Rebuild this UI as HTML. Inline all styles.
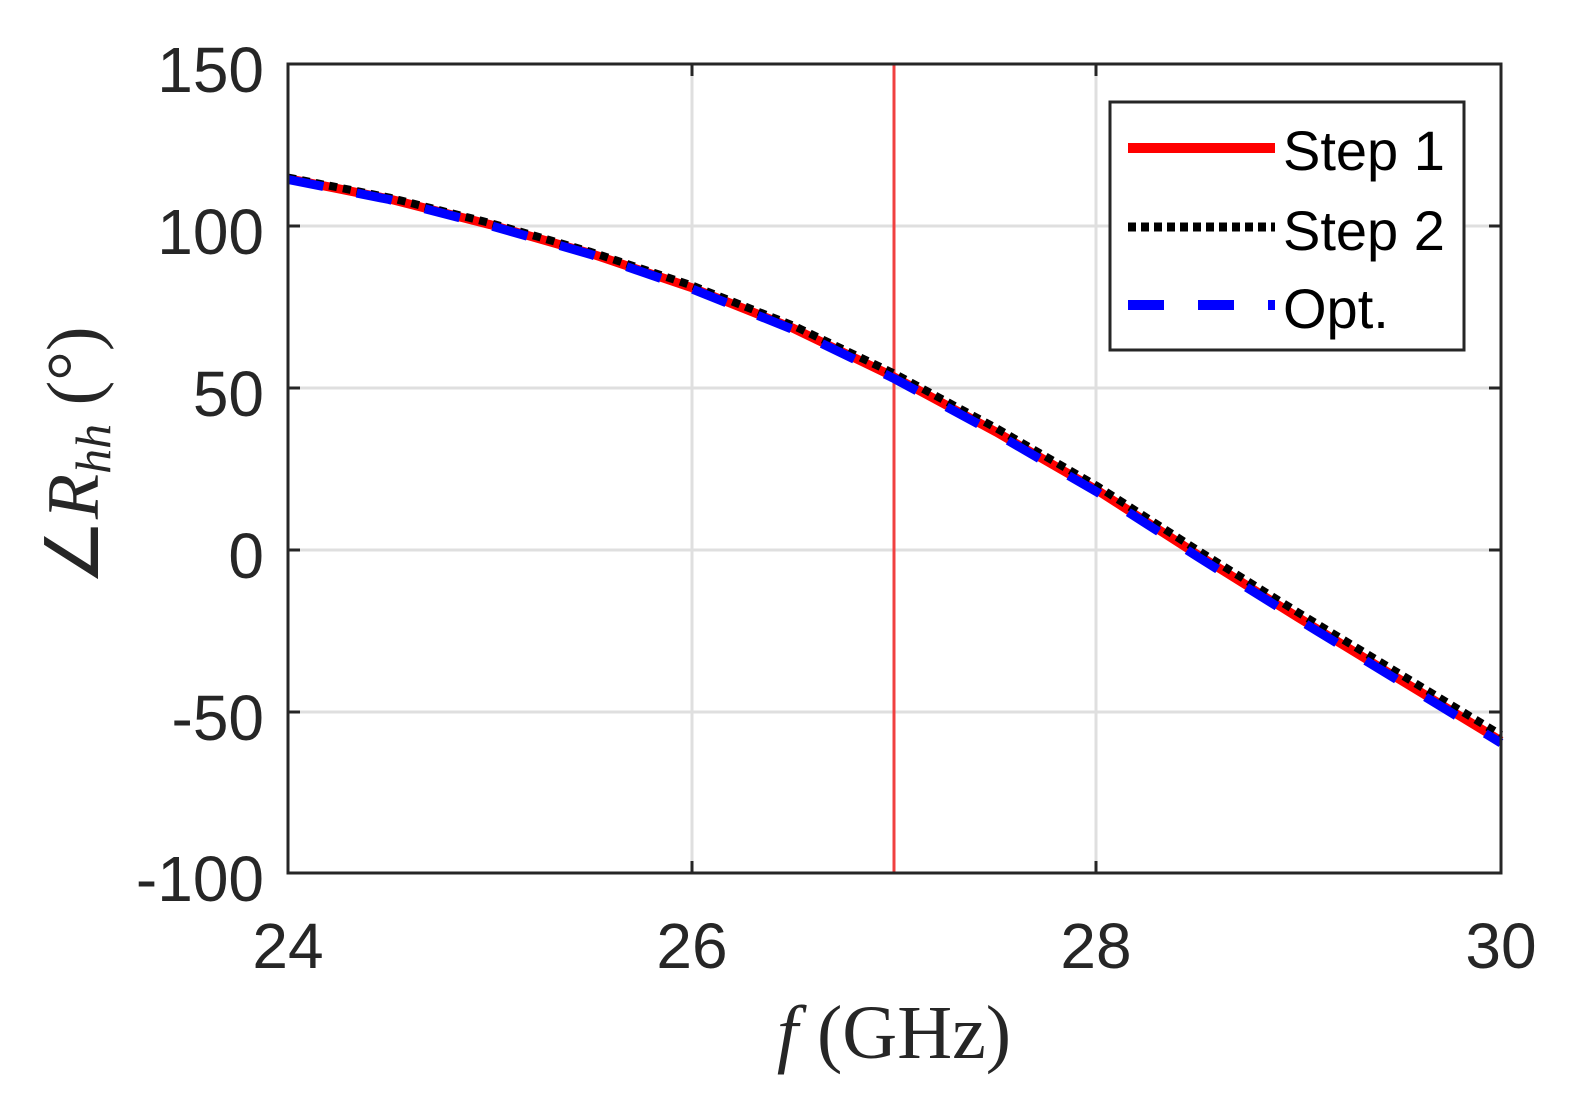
<!DOCTYPE html>
<html><head><style>body{margin:0;background:#fff}</style></head><body>
<svg width="1574" height="1098" xmlns="http://www.w3.org/2000/svg" font-family="Liberation Sans, sans-serif">
<rect width="1574" height="1098" fill="#fff"/>
<g stroke="#dfdfdf" stroke-width="3">
<line x1="692" y1="64" x2="692" y2="873"/><line x1="1096" y1="64" x2="1096" y2="873"/>
<line x1="288" y1="226" x2="1501" y2="226"/><line x1="288" y1="388" x2="1501" y2="388"/>
<line x1="288" y1="550" x2="1501" y2="550"/><line x1="288" y1="712" x2="1501" y2="712"/>
</g>
<line x1="894" y1="64" x2="894" y2="873" stroke="#f04040" stroke-width="3"/>
<g fill="none" stroke-linejoin="round">
<polyline stroke="#ff0000" stroke-width="9" points="288,178.7 389,198.9 490,224.6 591,253.6 692,287.8 793,328.2 894,376.9 996,431.9 1097,490.1 1198,554.9 1299,618 1400,679.6 1501,741"/>
<polyline stroke="#000" stroke-width="8" stroke-dasharray="8,6" points="288,177.5 389,197.5 490,223 591,252 692,285.5 793,325.5 894,373.5 996,428 1097,486 1198,550.5 1299,613 1400,674 1501,735"/>
<polyline stroke="#0000ff" stroke-width="9" stroke-dasharray="36,34" points="288,179.5 389,199.5 490,225.5 591,254.5 692,289 793,329.5 894,378.5 996,433.5 1097,492 1198,557 1299,620 1400,681.5 1501,743"/>
</g>
<rect x="288" y="64" width="1213" height="809" fill="none" stroke="#262626" stroke-width="3"/>
<g stroke="#262626" stroke-width="3">
<line x1="692" y1="64" x2="692" y2="76"/><line x1="1096" y1="64" x2="1096" y2="76"/>
<line x1="692" y1="873" x2="692" y2="861"/><line x1="1096" y1="873" x2="1096" y2="861"/>
<line x1="288" y1="226" x2="300" y2="226"/><line x1="288" y1="388" x2="300" y2="388"/><line x1="288" y1="550" x2="300" y2="550"/><line x1="288" y1="712" x2="300" y2="712"/>
<line x1="1501" y1="226" x2="1489" y2="226"/><line x1="1501" y1="388" x2="1489" y2="388"/><line x1="1501" y1="550" x2="1489" y2="550"/><line x1="1501" y1="712" x2="1489" y2="712"/>
</g>
<g fill="#262626" font-size="64" text-anchor="end">
<text x="264" y="92">150</text><text x="264" y="254">100</text><text x="264" y="416">50</text>
<text x="264" y="578">0</text><text x="264" y="740">-50</text><text x="264" y="901">-100</text>
</g>
<g fill="#262626" font-size="64" text-anchor="middle">
<text x="288" y="968">24</text><text x="692" y="968">26</text><text x="1096" y="968">28</text><text x="1501" y="968">30</text>
</g>
<text x="894" y="1058" font-family="Liberation Serif, serif" font-size="76" text-anchor="middle" fill="#262626"><tspan font-style="italic">f</tspan>  (GHz)</text>
<text transform="translate(98,456) rotate(-90)" font-family="Liberation Serif, serif" font-size="74" text-anchor="middle" fill="#262626">∠<tspan font-style="italic">R</tspan><tspan font-style="italic" font-size="50" dy="12">hh</tspan><tspan dy="-12">  (°)</tspan></text>
<rect x="1110" y="102" width="354" height="248" fill="#fff" stroke="#262626" stroke-width="3"/>
<line x1="1128" y1="148" x2="1275" y2="148" stroke="#ff0000" stroke-width="10"/>
<line x1="1128" y1="227" x2="1275" y2="227" stroke="#000" stroke-width="9" stroke-dasharray="8,5"/>
<line x1="1128" y1="305" x2="1275" y2="305" stroke="#0000ff" stroke-width="10" stroke-dasharray="36,34"/>
<g font-size="56" fill="#000">
<text x="1283" y="170">Step 1</text><text x="1283" y="250">Step 2</text><text x="1283" y="328">Opt.</text>
</g>
</svg>
</body></html>
